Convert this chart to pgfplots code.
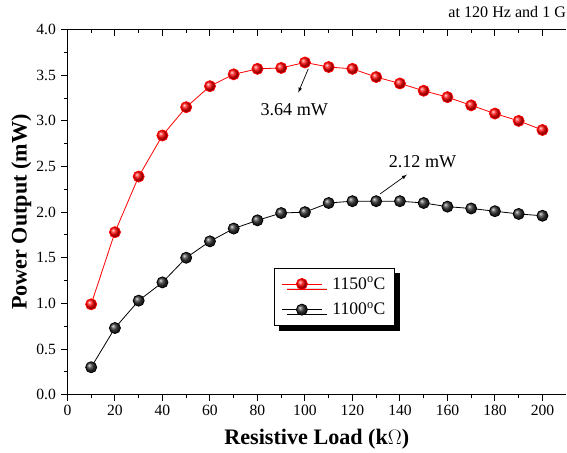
\documentclass[border=0pt]{standalone}
\usepackage{pgfplots}
\pgfplotsset{compat=1.18}
\usepackage{fontspec}
\setmainfont{Liberation Serif}
\usetikzlibrary{shadows}

\pgfplotstableread{
x    y
10   0.99
20   1.78
30   2.39
40   2.84
50   3.15
60   3.38
70   3.51
80   3.57
90   3.58
100  3.64
110  3.59
120  3.57
130  3.48
140  3.41
150  3.33
160  3.26
170  3.17
180  3.08
190  3.00
200  2.90
}\hot

\pgfplotstableread{
x    y
10   0.30
20   0.73
30   1.03
40   1.23
50   1.50
60   1.68
70   1.82
80   1.91
90   1.99
100  2.00
110  2.10
120  2.12
130  2.12
140  2.12
150  2.10
160  2.06
170  2.04
180  2.01
190  1.98
200  1.96
}\cold

\begin{document}
\begin{tikzpicture}
\pgfplotsset{
  base/.style={width=496pt,height=363pt,scale only axis,
    xmin=0,xmax=210,ymin=0,ymax=4,
    xtick={0,20,...,200},minor x tick num=1,
    major tick length=6pt,minor tick length=3.5pt,
    every tick/.style={black,line width=1pt},
    axis line style={line width=1.6pt}},
}
\begin{axis}[base,clip=false,
  axis x line*=box, axis y line*=left,
  xtick pos=left, ytick pos=left, tick align=outside,
  ytick={0,0.5,...,4.0}, minor y tick num=1,
  /pgf/number format/assume math mode=true,
  ticklabel style={font=\fontsize{15.5}{17}\selectfont},
  xticklabel style={yshift=-1pt},
  yticklabel style={xshift=-2pt,/pgf/number format/.cd,fixed,fixed zerofill,precision=1},
  xlabel={\bfseries Resistive Load (k$\Omega$)},
  ylabel={\bfseries Power Output (mW)},
  label style={font=\fontsize{22}{24}\selectfont},
  xlabel style={yshift=-6pt},
  ylabel style={yshift=-2pt},
  legend style={at={(axis cs:87,1.39)},anchor=north west,draw=black,line width=0.6pt,
    fill=white,font=\fontsize{17.5}{19}\selectfont,row sep=8pt,column sep=8pt,
    inner xsep=7pt,inner ysep=7pt,
    drop shadow={shadow xshift=5pt,shadow yshift=-5pt,fill=black,opacity=1}},
  legend cell align=left,
  legend image code/.code={\draw[mark repeat=2,mark phase=2,#1] plot coordinates {(0pt,0pt)(20pt,0pt)(40pt,0pt)};},
]
\addplot[red,line width=0.8pt,mark=ball,mark size=5.5pt,mark options={ball color=red}] table[x=x,y=y]{\hot};
\addlegendentry{1150\textsuperscript{o}C}
\addplot[black,line width=0.8pt,mark=ball,mark size=5.5pt,mark options={ball color=black!80}] table[x=x,y=y]{\cold};
\addlegendentry{1100\textsuperscript{o}C}

\draw[-latex,line width=0.7pt] (axis cs:101.4,3.57) -- (axis cs:97.2,3.31);
\node[font=\fontsize{18}{20}\selectfont] at (axis cs:95.5,3.12) {3.64 mW};
\draw[-latex,line width=0.7pt] (axis cs:131.7,2.20) -- (axis cs:142.9,2.41);
\node[font=\fontsize{18}{20}\selectfont] at (axis cs:149.5,2.55) {2.12 mW};
\node[anchor=south east,font=\fontsize{16}{18}\selectfont,inner sep=0pt] at ([yshift=12pt]rel axis cs:1,1) {at 120 Hz and 1 G};
\end{axis}
\begin{axis}[base,
  axis x line*=top, axis y line=none,
  tick align=inside, xticklabels={}, ytick=\empty,
]
\end{axis}
\path ([yshift=6pt]current bounding box.north);
\path ([xshift=-8pt]current bounding box.west);
\end{tikzpicture}
\end{document}
